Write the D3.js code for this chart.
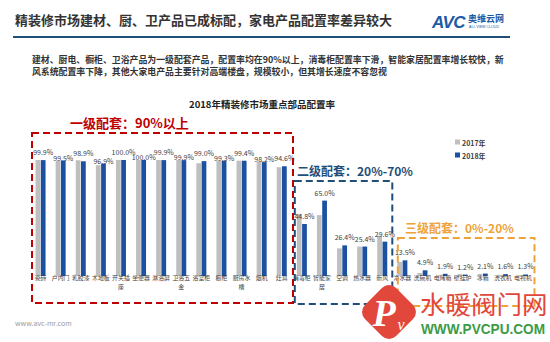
<!DOCTYPE html>
<html><head><meta charset="utf-8">
<script src="https://cdn.jsdelivr.net/npm/d3@7"></script>
<style>
html,body{margin:0;padding:0;background:#fff;}
svg{display:block;font-family:"Noto Sans CJK SC","Noto Sans",sans-serif;}
</style></head><body>
<svg id="c" width="550" height="342"></svg>
<script>
// ---------- data ----------
const categories = ["瓷砖","户内门","乳胶漆","木地板","开关插座","坐便器","淋浴屏","卫浴五金","浴室柜","橱柜","厨房水槽","烟机","灶具",
                    "消毒柜","智能家居","空调","热水器","新风",
                    "净水器","洗碗机","电烤箱","壁挂炉","冰箱","洗衣机","电视机"];
const values2017 = [100.0,99.6,99.8,95.5,100.0,100.0,100.0,100.0,97.2,99.6,99.4,98.6,93.8,
                    53.5,52.5,23.8,25.4,34.8,
                    12.2,2.6,1.0,1.6,1.8,1.0,0.8];
const values2018 = [99.9,99.5,98.9,96.9,100.0,100.0,99.9,99.9,99.0,99.3,99.4,98.2,94.6,
                    44.8,65.0,26.4,25.4,29.6,
                    13.5,4.9,1.9,1.2,2.1,1.6,1.3];
const seriesNames = ["2017年","2018年"];
const tierNames = ["一级配套：90%以上","二级配套：20%-70%","三级配套：0%-20%"];
const tierFirst = ["瓷砖","消毒柜","净水器"];
const tierLast  = ["灶具","新风","电视机"];
const pageTitle = "精装修市场建材、厨、卫产品已成标配，家电产品配置率差异较大";
const paragraph = ["建材、厨电、橱柜、卫浴产品为一级配套产品，配置率均在90%以上，消毒柜配置率下滑，智能家居配置率增长较快，新",
                   "风系统配置率下降，其他大家电产品主要针对高端楼盘，规模较小，但其增长速度不容忽视"];
const chartTitle = "2018年精装修市场重点部品配置率";

// ---------- layout ----------
const svg = d3.select("#c");
const colors = {"2017年":"#bfbfbf","2018年":"#1c50a0"};
const tierColors = ["#c00000","#1f4e79","#eea33a"];

// header
svg.append("text").attr("x",15).attr("y",25).attr("font-size",13).attr("font-weight","bold")
  .attr("fill","#333").text(pageTitle);
svg.append("line").attr("x1",13).attr("x2",510).attr("y1",37).attr("y2",37)
  .attr("stroke","#1f4e79").attr("stroke-width",2);
// logo
svg.append("text").attr("x",432).attr("y",28).attr("font-family","Liberation Sans").attr("font-size",17)
  .attr("font-weight","bold").attr("font-style","italic").attr("fill","#1c5aa6").attr("letter-spacing",-0.5).text("AVC");
svg.append("text").attr("x",468).attr("y",22).attr("font-size",9).attr("font-weight","bold").attr("fill","#1c5aa6").text("奥维云网");
svg.append("text").attr("x",469).attr("y",27.5).attr("font-family","Liberation Sans").attr("font-size",3.6).attr("fill","#1c5aa6").text("ALL VIEW CLOUD");

// paragraph
paragraph.forEach((t,i)=>svg.append("text").attr("x",32).attr("y",63+i*12).attr("font-size",8.9)
  .attr("font-weight","bold").attr("fill","#333").text(t));

// chart title
svg.append("text").attr("x",262).attr("y",108).attr("text-anchor","middle").attr("font-size",9.5)
  .attr("font-weight","bold").attr("fill","#222").text(chartTitle);

// scales
const x = d3.scaleBand().domain(categories).range([30.5, 533]).paddingInner(0).paddingOuter(0);
const y = d3.scaleLinear().domain([0,100]).range([276,160]);
const bw = x.bandwidth();
const sub = d3.scaleBand().domain(seriesNames).range([bw/2-5, bw/2+5]).paddingInner(0.1);

// bars
const rows = categories.map((c,i)=>({c, i, v:[values2017[i], values2018[i]]}));
const g = svg.append("g");
const grp = g.selectAll("g.cat").data(rows).join("g").attr("class","cat")
  .attr("transform",d=>`translate(${x(d.c)},0)`);
grp.selectAll("rect").data(d=>seriesNames.map((s,k)=>({s, v:d.v[k]}))).join("rect")
  .attr("x",d=>sub(d.s)).attr("width",sub.bandwidth())
  .attr("y",d=>y(d.v)).attr("height",d=>y(0)-y(d.v)).attr("fill",d=>colors[d.s]);

// axis labels
const ax = svg.append("g").attr("transform","translate(0,276)")
  .call(d3.axisBottom(x).tickSize(0).tickPadding(4));
ax.attr("font-family","Noto Sans CJK SC").attr("font-size",5.9);
ax.select(".domain").remove();
ax.selectAll("text").attr("fill","#404040")
  .each(function(d){
    const t = d3.select(this); t.text(null);
    const lines = d.length>3 ? [d.slice(0,3), d.slice(3)] : [d];
    lines.forEach((l,k)=>t.append("tspan").attr("x",0).attr("dy",k?"1.5em":0).text(l));
  });

// data labels (2018)
const tierIndex = c => tierFirst.findIndex((f,k)=>categories.indexOf(c)>=categories.indexOf(f) && categories.indexOf(c)<=categories.indexOf(tierLast[k]));
svg.append("g").selectAll("text").data(rows).join("text")
  .attr("x",d=>x(d.c)+sub("2018年")+sub.bandwidth()/2)
  .attr("y",d=>y(d.v[1]) - 5 + ((tierIndex(d.c)===0 && d.i%2===1) ? 5 : 0))
  .attr("text-anchor","middle").attr("font-size",7).attr("fill","#404040")
  .text(d=>d.v[1].toFixed(1)+"%");

// tier boxes
const boxTop = [133,181,238], boxBottom=[303,304,306];
const boxPad = [[1.5,1.2],[3,0],[5.5,1.5]];
const labelPos = [[70,128,13],[297,176,12],[405,233,12]];
tierNames.forEach((n,k)=>{
  const x0 = x(tierFirst[k]) + boxPad[k][0], x1 = x(tierLast[k]) + bw + boxPad[k][1];
  svg.append("rect").attr("x",x0).attr("y",boxTop[k]).attr("width",x1-x0).attr("height",boxBottom[k]-boxTop[k])
    .attr("fill","none").attr("stroke",tierColors[k]).attr("stroke-width",2).attr("stroke-dasharray","7,4");
  svg.append("text").attr("x",labelPos[k][0]).attr("y",labelPos[k][1]).attr("font-size",labelPos[k][2])
    .attr("font-weight","bold").attr("fill",tierColors[k]).text(n);
});

// legend
seriesNames.forEach((s,k)=>{
  svg.append("rect").attr("x",455).attr("y",139.5+k*13).attr("width",5).attr("height",5).attr("fill",colors[s]);
  svg.append("text").attr("x",462).attr("y",145.5+k*13).attr("font-size",7).attr("font-weight","bold")
    .attr("fill","#404040").text(s);
});

// footer
svg.append("text").attr("x",15).attr("y",326).attr("font-size",7).attr("fill","#9a9a9a").text("www.avc-mr.com");

// site watermark (bottom right)
const wm = svg.append("g");
wm.append("rect").attr("x",-22).attr("y",-22).attr("width",44).attr("height",44).attr("rx",10)
  .attr("fill","#e2473b").attr("transform","translate(389,312) rotate(45)");
wm.append("text").attr("x",384).attr("y",326).attr("text-anchor","middle").attr("font-family","Liberation Serif")
  .attr("font-size",38).attr("font-style","italic").attr("font-weight","bold").attr("fill","#fff").text("P");
wm.append("text").attr("x",401).attr("y",330).attr("text-anchor","middle").attr("font-family","Liberation Serif")
  .attr("font-size",16).attr("font-style","italic").attr("fill","#fff").text("v");
wm.append("text").attr("x",420).attr("y",314).attr("font-size",25.5).attr("fill","#e2473b").text("水暖阀门网");
wm.append("text").attr("x",421).attr("y",334).attr("font-family","Liberation Sans").attr("font-size",14)
  .attr("font-weight","bold").attr("fill","#3b9b48").attr("textLength",124).attr("lengthAdjust","spacingAndGlyphs").text("WWW.PVCPU.COM");
</script>
</body></html>
